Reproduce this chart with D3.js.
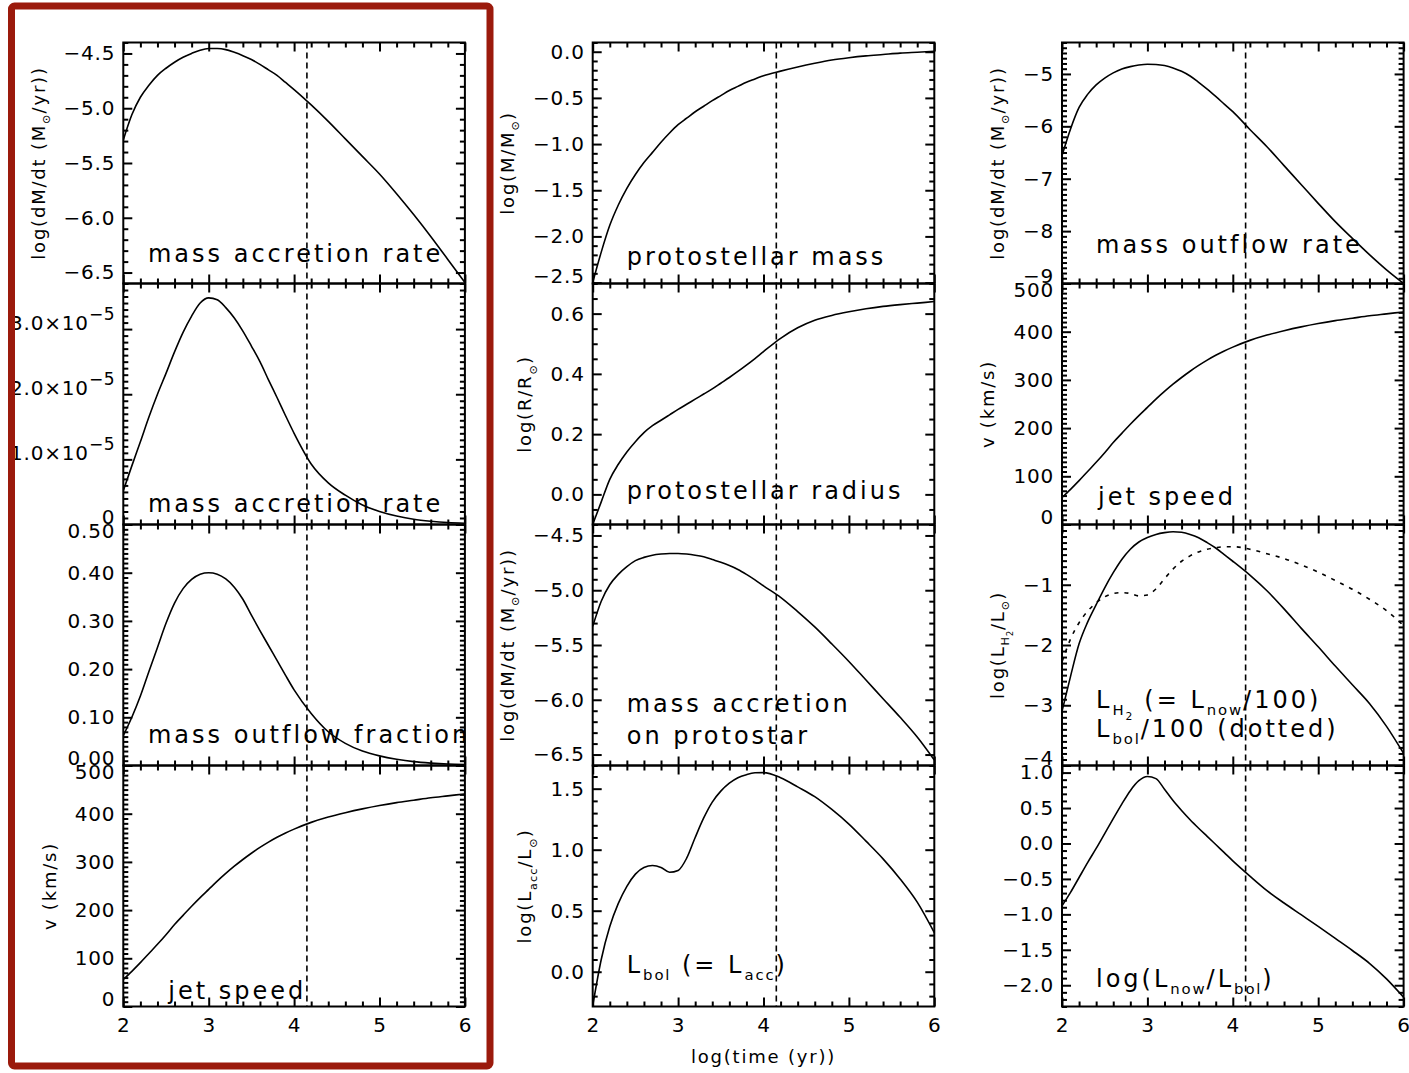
<!DOCTYPE html>
<html>
<head>
<meta charset="utf-8">
<script src="https://cdn.jsdelivr.net/npm/d3@7/dist/d3.min.js"></script>
<style>
  body { margin: 0; background: #fff; }
  svg text { font-family: "DejaVu Sans", sans-serif; fill: #000; white-space: pre; }
  .frame { fill: none; stroke: #000; stroke-width: 2px; }
  .curve { fill: none; stroke: #000; stroke-width: 1.6px; stroke-linejoin: round; }
  .marker { stroke: #000; stroke-width: 1.6px; stroke-dasharray: 6 4; }
</style>
</head>
<body>
<svg id="fig" width="1409" height="1073"></svg>
<script>
// log10 of time in years, shared sampling of every track
const timeGrid = [2.0, 2.1, 2.2, 2.3, 2.4, 2.5, 2.6, 2.7, 2.8, 2.9, 3.0, 3.1, 3.2, 3.3, 3.4, 3.5, 3.6, 3.7, 3.8, 3.9, 4.0,
                  4.2, 4.4, 4.6, 4.8, 5.0, 5.2, 5.4, 5.6, 5.8, 6.0];

// current age of the source (vertical dashed line)
const markerTime = 4.15;

// envelope infall: log dM/dt (Msun/yr)
const accretionRateLog = [-5.29, -5.06, -4.90, -4.79, -4.70, -4.635, -4.58, -4.535, -4.50, -4.47, -4.455, -4.455, -4.465, -4.49, -4.52, -4.555, -4.60, -4.65, -4.70, -4.765, -4.83,
                          -4.97, -5.12, -5.28, -5.44, -5.60, -5.78, -5.97, -6.17, -6.38, -6.59];
// envelope infall, linear (Msun/yr)
const accretionRate = [5.2e-6, 9.0e-6, 1.27e-5, 1.65e-5, 2.00e-5, 2.32e-5, 2.65e-5, 2.95e-5, 3.20e-5, 3.40e-5, 3.48e-5, 3.45e-5, 3.33e-5, 3.17e-5, 2.97e-5, 2.74e-5, 2.50e-5, 2.22e-5, 1.95e-5, 1.67e-5, 1.40e-5,
                       9.3e-6, 6.4e-6, 4.5e-6, 3.0e-6, 2.0e-6, 1.3e-6, 8e-7, 5e-7, 3e-7, 2e-7];
// fraction of the infall ejected in the jet
const outflowFraction = [0.062, 0.100, 0.144, 0.195, 0.245, 0.295, 0.337, 0.367, 0.386, 0.397, 0.400, 0.397, 0.387, 0.370, 0.345, 0.312, 0.280, 0.249, 0.218, 0.187, 0.157,
                         0.108, 0.070, 0.046, 0.030, 0.020, 0.013, 0.008, 0.005, 0.003, 0.002];
// jet speed (km/s)
const jetSpeed = [56, 73, 91, 110, 129, 149, 170, 189, 208, 226, 243, 260, 276, 291, 305, 318, 330, 341, 351, 360, 368,
                  382, 393, 402, 410, 417, 423, 428, 433, 437, 441];
// log protostellar mass (Msun)
const massLog = [-2.50, -2.17, -1.88, -1.66, -1.48, -1.33, -1.20, -1.09, -0.98, -0.88, -0.79, -0.72, -0.65, -0.59, -0.53, -0.475, -0.42, -0.375, -0.33, -0.295, -0.26,
                 -0.21, -0.165, -0.125, -0.09, -0.065, -0.045, -0.03, -0.015, -0.005, 0.005];
// log protostellar radius (Rsun)
const radiusLog = [-0.10, -0.025, 0.05, 0.10, 0.141, 0.175, 0.205, 0.228, 0.246, 0.264, 0.282, 0.299, 0.316, 0.333, 0.350, 0.369, 0.388, 0.408, 0.429, 0.451, 0.474,
                   0.518, 0.553, 0.578, 0.594, 0.606, 0.616, 0.624, 0.630, 0.635, 0.640];
// log accretion rate onto the protostar (Msun/yr)
const protostarAccretionLog = [-5.33, -5.10, -4.95, -4.855, -4.785, -4.73, -4.70, -4.68, -4.67, -4.665, -4.665, -4.67, -4.68, -4.695, -4.72, -4.745, -4.775, -4.81, -4.855, -4.905, -4.96,
                               -5.065, -5.195, -5.335, -5.49, -5.65, -5.82, -5.99, -6.16, -6.34, -6.55];
// log accretion luminosity (Lsun)
const accretionLumLog = [-0.28, 0.10, 0.37, 0.56, 0.70, 0.80, 0.855, 0.87, 0.855, 0.815, 0.83, 0.93, 1.10, 1.26, 1.39, 1.48, 1.545, 1.59, 1.615, 1.63, 1.632,
                         1.59, 1.515, 1.435, 1.33, 1.21, 1.07, 0.925, 0.76, 0.57, 0.32];
// log jet mass-loss rate (Msun/yr)
const outflowRateLog = [-6.56, -6.05, -5.64, -5.39, -5.21, -5.08, -4.98, -4.905, -4.86, -4.83, -4.815, -4.82, -4.84, -4.885, -4.95, -5.04, -5.16, -5.29, -5.43, -5.575, -5.72,
                        -6.06, -6.39, -6.75, -7.11, -7.47, -7.82, -8.14, -8.45, -8.74, -9.0];
// log H2 luminosity (Lsun)
const h2LumLog = [-3.10, -2.52, -1.98, -1.62, -1.33, -1.05, -0.80, -0.58, -0.41, -0.29, -0.215, -0.165, -0.135, -0.12, -0.13, -0.165, -0.22, -0.30, -0.39, -0.50, -0.61,
                  -0.84, -1.10, -1.40, -1.72, -2.03, -2.35, -2.66, -2.97, -3.35, -3.80];
// log (L_bol / 100)
const bolLumOver100Log = [-2.28, -1.90, -1.63, -1.44, -1.30, -1.20, -1.145, -1.13, -1.145, -1.185, -1.17, -1.07, -0.90, -0.74, -0.61, -0.52, -0.455, -0.41, -0.385, -0.37, -0.368,
                          -0.41, -0.485, -0.565, -0.67, -0.79, -0.93, -1.075, -1.24, -1.43, -1.68];
// log (L_now / L_bol)
const lumRatioLog = [-0.88, -0.69, -0.48, -0.27, -0.07, 0.14, 0.35, 0.555, 0.745, 0.885, 0.945, 0.915, 0.765, 0.605, 0.465, 0.335, 0.215, 0.10, -0.015, -0.13, -0.245,
                     -0.46, -0.665, -0.84, -1.005, -1.17, -1.34, -1.51, -1.69, -1.91, -2.17];

// x-axis tick labels
const timeTicks = [2, 3, 4, 5, 6];

// ---------------------------------------------------------------------------
const svg = d3.select("#fig");
const colLeft = [123.3, 592.7, 1062];
const rowTop = [42.5, 283.5, 524.5, 765.5];
const plotW = 341.6, plotH = 241;
const MAJOR = 9, MINOR = 5;
const MINUS = "\u2212";
const SUN = "\u2299";

const f1 = d => (d < 0 ? MINUS : "") + Math.abs(d).toFixed(1);
const f2 = d => (d < 0 ? MINUS : "") + Math.abs(d).toFixed(2);
const fi = d => (d < 0 ? MINUS : "") + Math.abs(d);

// text with sub/superscripts: level 0 normal, 1 subscript, 2 sub-subscript, -1 superscript
function rich(textSel, segs, size, ls) {
  const spec = { "0": [1, 0], "1": [0.62, 0.3], "2": [0.45, 0.5], "-1": [0.85, -0.5] };
  let prev = 0;
  segs.forEach(([s, lv]) => {
    const [k, off] = spec[String(lv)];
    const shift = off * size;
    textSel.append("tspan").attr("font-size", size * k).attr("dy", shift - prev)
      .attr("letter-spacing", (ls || 0) * k).text(s);
    prev = shift;
  });
}

function minorValues(dom, step, majors) {
  const lo = Math.min(dom[0], dom[1]), hi = Math.max(dom[0], dom[1]);
  const out = [];
  for (let i = Math.ceil(lo / step - 1e-6); i <= Math.floor(hi / step + 1e-6); i++) {
    const v = +(i * step).toPrecision(12);
    if (!majors.some(m => Math.abs(m - v) < step * 1e-3)) out.push(v);
  }
  return out;
}

const dMdtTitle = [["log(dM/dt (M", 0], [SUN, 1], ["/yr))", 0]];
const vTitle = [["v (km/s)", 0]];

const panels = [
  { col: 0, row: 0, domain: [-6.6, -4.4], major: [-6.5, -6.0, -5.5, -5.0, -4.5], minor: 0.1, fmt: f1,
    lines: [{ v: accretionRateLog }], title: dMdtTitle,
    notes: [{ x: 24.7, y: 219, segs: [["mass accretion rate", 0]] }] },
  { col: 0, row: 1, domain: [0, 3.7e-5], major: [0, 1e-5, 2e-5, 3e-5], minor: 1e-6, fmt: "sci",
    lines: [{ v: accretionRate }], title: null,
    notes: [{ x: 24.7, y: 228, segs: [["mass accretion rate", 0]] }] },
  { col: 0, row: 2, domain: [0, 0.5], major: [0, 0.1, 0.2, 0.3, 0.4, 0.5], minor: 0.01, fmt: f2,
    lines: [{ v: outflowFraction }], title: null,
    notes: [{ x: 24.7, y: 218, segs: [["mass outflow fraction", 0]] }] },
  { col: 0, row: 3, domain: [0, 500], major: [0, 100, 200, 300, 400, 500], minor: 10, fmt: fi,
    lines: [{ v: jetSpeed }], title: vTitle,
    notes: [{ x: 45, y: 233.5, segs: [["jet speed", 0]] }] },

  { col: 1, row: 0, domain: [-2.51, 0.1], major: [-2.5, -2.0, -1.5, -1.0, -0.5, 0], minor: 0.1, fmt: f1,
    lines: [{ v: massLog }], title: [["log(M/M", 0], [SUN, 1], [")", 0]],
    notes: [{ x: 34, y: 222.5, segs: [["protostellar mass", 0]] }] },
  { col: 1, row: 1, domain: [-0.1, 0.7], major: [0, 0.2, 0.4, 0.6], minor: 0.05, fmt: f1,
    lines: [{ v: radiusLog }], title: [["log(R/R", 0], [SUN, 1], [")", 0]],
    notes: [{ x: 34, y: 215, segs: [["protostellar radius", 0]] }] },
  { col: 1, row: 2, domain: [-6.6, -4.4], major: [-6.5, -6.0, -5.5, -5.0, -4.5], minor: 0.1, fmt: f1,
    lines: [{ v: protostarAccretionLog }], title: dMdtTitle,
    notes: [{ x: 34, y: 187, segs: [["mass accretion", 0]] }, { x: 34, y: 219.5, segs: [["on protostar", 0]] }] },
  { col: 1, row: 3, domain: [-0.285, 1.69], major: [0, 0.5, 1.0, 1.5], minor: 0.1, fmt: f1,
    lines: [{ v: accretionLumLog }], title: [["log(L", 0], ["acc", 1], ["/L", 0], [SUN, 1], [")", 0]],
    notes: [{ x: 34, y: 207.5, segs: [["L", 0], ["bol", 1], [" (= L", 0], ["acc", 1], [")", 0]] }] },

  { col: 2, row: 0, domain: [-9, -4.4], major: [-9, -8, -7, -6, -5], minor: 0.1, fmt: fi,
    lines: [{ v: outflowRateLog }], title: dMdtTitle,
    notes: [{ x: 34, y: 210, segs: [["mass outflow rate", 0]] }] },
  { col: 2, row: 1, domain: [0, 500], major: [0, 100, 200, 300, 400, 500], minor: 10, fmt: fi,
    lines: [{ v: jetSpeed }], title: vTitle,
    notes: [{ x: 36, y: 221.5, segs: [["jet speed", 0]] }] },
  { col: 2, row: 2, domain: [-4, 0], major: [-4, -3, -2, -1], minor: 0.1, fmt: fi,
    lines: [{ v: h2LumLog }, { v: bolLumOver100Log, dash: "4 6" }],
    title: [["log(L", 0], ["H", 1], ["2", 2], ["/L", 0], [SUN, 1], [")", 0]],
    notes: [{ x: 34, y: 183.5, segs: [["L", 0], ["H", 1], ["2", 2], [" (= L", 0], ["now", 1], ["/100)", 0]] },
            { x: 34, y: 212, segs: [["L", 0], ["bol", 1], ["/100 (dotted)", 0]] }] },
  { col: 2, row: 3, domain: [-2.3, 1.1], major: [-2.0, -1.5, -1.0, -0.5, 0, 0.5, 1.0], minor: 0.1, fmt: f1,
    lines: [{ v: lumRatioLog }], title: null,
    notes: [{ x: 34, y: 221, segs: [["log(L", 0], ["now", 1], ["/L", 0], ["bol", 1], [")", 0]] }] }
];

const x = d3.scaleLinear().domain([2, 6]).range([0, plotW]);
const xMajor = timeTicks;
const xMinor = minorValues([2, 6], 0.2, xMajor);

function styleAxis(g) {
  g.attr("font-family", null).attr("font-size", 20).attr("letter-spacing", 0.8).attr("fill", null);
  g.select(".domain").remove();
  g.selectAll(".tick line").attr("stroke", "#000").attr("stroke-width", 2);
  return g;
}

panels.forEach((p, idx) => {
  const g = svg.append("g").attr("transform", `translate(${colLeft[p.col]},${rowTop[p.row]})`);
  const y = d3.scaleLinear().domain(p.domain).range([plotH, 0]);

  const clipId = "clip" + idx;
  g.append("clipPath").attr("id", clipId).append("rect").attr("width", plotW).attr("height", plotH);

  // curves
  const line = d3.line().x((d, i) => x(timeGrid[i])).y(d => y(d)).curve(d3.curveMonotoneX);
  p.lines.forEach(s => {
    g.append("path").attr("class", "curve").attr("clip-path", `url(#${clipId})`)
      .attr("d", line(s.v))
      .style("stroke-dasharray", s.dash || null);
  });

  // current-age marker
  g.append("line").attr("class", "marker")
    .attr("x1", x(markerTime)).attr("x2", x(markerTime)).attr("y1", 0).attr("y2", plotH);

  // y axes: left (labelled) and right, major + minor ticks pointing inward
  const minors = minorValues(p.domain, p.minor, p.major);
  const fmt = p.fmt === "sci" ? (d => d) : p.fmt;
  const left = g.append("g").call(d3.axisLeft(y).tickValues(p.major).tickSizeInner(-MAJOR).tickSizeOuter(0).tickPadding(8).tickFormat(fmt));
  styleAxis(left);
  if (p.fmt === "sci") {
    left.selectAll(".tick text").each(function (d) {
      const t = d3.select(this);
      if (d === 0) { t.text("0"); return; }
      t.text(null);
      rich(t, [[(d / 1e-5).toFixed(1) + "\u00d710", 0], [MINUS + "5", -1]], 20, 0.8);
    });
  }
  // keep end labels inside the panel height
  left.selectAll(".tick").each(function (d) {
    const yy = y(d);
    let shift = 0;
    if (yy < 7) shift = 7 - yy;
    if (yy > plotH - 7) shift = (plotH - 7) - yy;
    d3.select(this).select("text").attr("y", shift);
  });
  g.append("g").call(d3.axisLeft(y).tickValues(minors).tickSizeInner(-MINOR).tickSizeOuter(0).tickFormat(""))
    .call(styleAxis);
  g.append("g").attr("transform", `translate(${plotW},0)`)
    .call(d3.axisRight(y).tickValues(p.major).tickSizeInner(-MAJOR).tickSizeOuter(0).tickFormat("")).call(styleAxis);
  g.append("g").attr("transform", `translate(${plotW},0)`)
    .call(d3.axisRight(y).tickValues(minors).tickSizeInner(-MINOR).tickSizeOuter(0).tickFormat("")).call(styleAxis);

  // x axes: top and bottom
  g.append("g").call(d3.axisTop(x).tickValues(xMajor).tickSizeInner(-MAJOR).tickSizeOuter(0).tickFormat("")).call(styleAxis);
  g.append("g").call(d3.axisTop(x).tickValues(xMinor).tickSizeInner(-MINOR).tickSizeOuter(0).tickFormat("")).call(styleAxis);
  const bottom = g.append("g").attr("transform", `translate(0,${plotH})`)
    .call(d3.axisBottom(x).tickValues(xMajor).tickSizeInner(-MAJOR).tickSizeOuter(0).tickPadding(11)
      .tickFormat(p.row === 3 ? d3.format("d") : ""));
  styleAxis(bottom);
  g.append("g").attr("transform", `translate(0,${plotH})`)
    .call(d3.axisBottom(x).tickValues(xMinor).tickSizeInner(-MINOR).tickSizeOuter(0).tickFormat("")).call(styleAxis);

  // frame
  g.append("rect").attr("class", "frame").attr("width", plotW).attr("height", plotH);

  // y title, placed left of the widest tick label
  if (p.title) {
    const maxW = d3.max(left.selectAll(".tick text").nodes(), n => n.getBBox().width) || 0;
    const cx = -8 - maxW - 25;
    const t = g.append("text")
      .attr("transform", `translate(${cx + 6},${plotH / 2}) rotate(-90)`)
      .attr("text-anchor", "middle").attr("font-size", 18);
    rich(t, p.title, 18, 1.8);
  }

  // in-panel annotations
  p.notes.forEach(n => {
    const t = g.append("text").attr("x", n.x).attr("y", n.y).attr("font-size", 24);
    rich(t, n.segs, 24, 3);
  });
});

// x title under the middle column
svg.append("text")
  .attr("x", colLeft[1] + plotW / 2).attr("y", 1063)
  .attr("text-anchor", "middle").attr("font-size", 18).attr("letter-spacing", 1.8)
  .text("log(time (yr))");

// highlight box around the first column
svg.append("rect")
  .attr("x", 11.5).attr("y", 6).attr("width", 478.5).attr("height", 1060).attr("rx", 3)
  .attr("fill", "none").attr("stroke", "#9b1a0c").attr("stroke-width", 7);
</script>
</body>
</html>
